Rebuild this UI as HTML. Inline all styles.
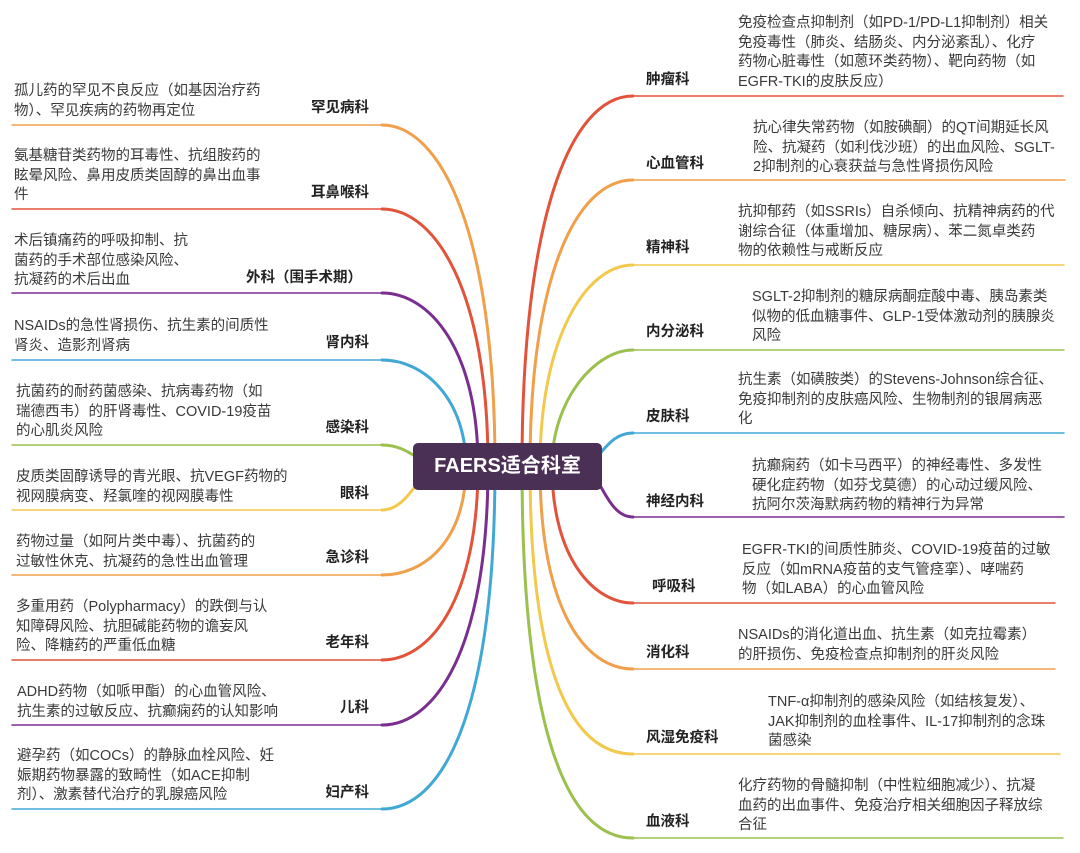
<!DOCTYPE html>
<html><head><meta charset="utf-8"><style>
html,body{margin:0;padding:0;background:#fff;}
body{width:1080px;height:853px;position:relative;overflow:hidden;font-family:"Liberation Sans","Noto Sans CJK SC",sans-serif;color:#333;}
.d{position:absolute;font-size:14.5px;line-height:19.5px;white-space:nowrap;color:#3a3a3a;}
.l{position:absolute;font-size:14.5px;font-weight:bold;white-space:nowrap;color:#222;line-height:20px;}
.r{text-align:right;}
svg{position:absolute;left:0;top:0;}
#c{position:absolute;left:413px;top:443px;width:189px;height:47px;background:#4b3056;border-radius:5px;color:#fff;font-size:20px;font-weight:bold;text-align:center;line-height:47px;}
</style></head><body>
<svg width="1080" height="853" fill="none" stroke-linecap="round">
<g stroke-width="3">
<path d="M495 466 C495 230,440 125,382 125" stroke="#f0a04b"/>
<path d="M488 466 C488 290,435 209,382 209" stroke="#e2533b"/>
<path d="M478 466 C478 350,430 293,382 293" stroke="#7a2e8f"/>
<path d="M466 466 C466 400,425 360,382 360" stroke="#41a8d5"/>
<path d="M440 466 C420 466,410 445,382 445" stroke="#9bc04e"/>
<path d="M440 466 C420 466,410 510,382 510" stroke="#f2c94c"/>
<path d="M466 466 C466 540,425 575,382 575" stroke="#f0a04b"/>
<path d="M478 466 C478 600,430 660,382 660" stroke="#e2533b"/>
<path d="M488 466 C488 650,435 725,382 725" stroke="#7a2e8f"/>
<path d="M495 466 C495 720,440 809,382 809" stroke="#41a8d5"/>
<path d="M522 466 C522 220,570 96,633 96" stroke="#e2533b"/>
<path d="M530 466 C530 280,575 180,633 180" stroke="#f0a04b"/>
<path d="M540 466 C540 340,585 265,633 265" stroke="#f2c94c"/>
<path d="M552 466 C552 400,595 350,633 350" stroke="#9bc04e"/>
<path d="M580 466 C600 466,605 433,633 433" stroke="#41a8d5"/>
<path d="M580 466 C600 466,605 517,633 517" stroke="#7a2e8f"/>
<path d="M552 466 C552 560,595 603,633 603" stroke="#e2533b"/>
<path d="M540 466 C540 610,585 669,633 669" stroke="#f0a04b"/>
<path d="M530 466 C530 680,575 754,633 754" stroke="#f2c94c"/>
<path d="M522 466 C522 740,570 838,633 838" stroke="#9bc04e"/>
</g>
<g stroke-width="1.5">
<path d="M12 125H382" stroke="#f0a04b"/>
<path d="M12 209H382" stroke="#e2533b"/>
<path d="M12 293H382" stroke="#7a2e8f"/>
<path d="M12 360H382" stroke="#41a8d5"/>
<path d="M12 445H382" stroke="#9bc04e"/>
<path d="M12 510H382" stroke="#f2c94c"/>
<path d="M12 575H382" stroke="#f0a04b"/>
<path d="M12 660H382" stroke="#e2533b"/>
<path d="M12 725H382" stroke="#7a2e8f"/>
<path d="M12 809H382" stroke="#41a8d5"/>
<path d="M633 96H1063" stroke="#e2533b"/>
<path d="M633 180H1065" stroke="#f0a04b"/>
<path d="M633 265H1064" stroke="#f2c94c"/>
<path d="M633 350H1064" stroke="#9bc04e"/>
<path d="M633 433H1064" stroke="#41a8d5"/>
<path d="M633 517H1064" stroke="#7a2e8f"/>
<path d="M633 603H1055" stroke="#e2533b"/>
<path d="M633 669H1055" stroke="#f0a04b"/>
<path d="M633 754H1060" stroke="#f2c94c"/>
<path d="M633 838H1063" stroke="#9bc04e"/>
</g>
</svg>
<div id="c">FAERS适合科室</div>

<div class="d" style="left:14px;top:82px">孤儿药的罕见不良反应（如基因治疗药<br>物）、罕见疾病的药物再定位</div>
<div class="l r" style="right:711px;top:98px">罕见病科</div>
<div class="d" style="left:14px;top:147px">氨基糖苷类药物的耳毒性、抗组胺药的<br>眩晕风险、鼻用皮质类固醇的鼻出血事<br>件</div>
<div class="l r" style="right:711px;top:183px">耳鼻喉科</div>
<div class="d" style="left:14px;top:232px">术后镇痛药的呼吸抑制、抗<br>菌药的手术部位感染风险、<br>抗凝药的术后出血</div>
<div class="l r" style="right:718px;top:268px">外科（围手术期）</div>
<div class="d" style="left:14px;top:317px">NSAIDs的急性肾损伤、抗生素的间质性<br>肾炎、造影剂肾病</div>
<div class="l r" style="right:711px;top:333px">肾内科</div>
<div class="d" style="left:16px;top:383px">抗菌药的耐药菌感染、抗病毒药物（如<br>瑞德西韦）的肝肾毒性、COVID-19疫苗<br>的心肌炎风险</div>
<div class="l r" style="right:711px;top:418px">感染科</div>
<div class="d" style="left:16px;top:468px">皮质类固醇诱导的青光眼、抗VEGF药物的<br>视网膜病变、羟氯喹的视网膜毒性</div>
<div class="l r" style="right:711px;top:484px">眼科</div>
<div class="d" style="left:16px;top:533px">药物过量（如阿片类中毒）、抗菌药的<br>过敏性休克、抗凝药的急性出血管理</div>
<div class="l r" style="right:711px;top:548px">急诊科</div>
<div class="d" style="left:16px;top:598px">多重用药（Polypharmacy）的跌倒与认<br>知障碍风险、抗胆碱能药物的谵妄风<br>险、降糖药的严重低血糖</div>
<div class="l r" style="right:711px;top:633px">老年科</div>
<div class="d" style="left:17px;top:683px">ADHD药物（如哌甲酯）的心血管风险、<br>抗生素的过敏反应、抗癫痫药的认知影响</div>
<div class="l r" style="right:711px;top:698px">儿科</div>
<div class="d" style="left:17px;top:747px">避孕药（如COCs）的静脉血栓风险、妊<br>娠期药物暴露的致畸性（如ACE抑制<br>剂）、激素替代治疗的乳腺癌风险</div>
<div class="l r" style="right:711px;top:783px">妇产科</div>

<div class="l" style="left:646px;top:70px">肿瘤科</div>
<div class="d" style="left:738px;top:14px">免疫检查点抑制剂（如PD-1/PD-L1抑制剂）相关<br>免疫毒性（肺炎、结肠炎、内分泌紊乱）、化疗<br>药物心脏毒性（如蒽环类药物）、靶向药物（如<br>EGFR-TKI的皮肤反应）</div>
<div class="l" style="left:646px;top:154px">心血管科</div>
<div class="d" style="left:753px;top:119px">抗心律失常药物（如胺碘酮）的QT间期延长风<br>险、抗凝药（如利伐沙班）的出血风险、SGLT-<br>2抑制剂的心衰获益与急性肾损伤风险</div>
<div class="l" style="left:646px;top:238px">精神科</div>
<div class="d" style="left:738px;top:203px">抗抑郁药（如SSRIs）自杀倾向、抗精神病药的代<br>谢综合征（体重增加、糖尿病）、苯二氮卓类药<br>物的依赖性与戒断反应</div>
<div class="l" style="left:646px;top:322px">内分泌科</div>
<div class="d" style="left:752px;top:288px">SGLT-2抑制剂的糖尿病酮症酸中毒、胰岛素类<br>似物的低血糖事件、GLP-1受体激动剂的胰腺炎<br>风险</div>
<div class="l" style="left:646px;top:407px">皮肤科</div>
<div class="d" style="left:738px;top:371px">抗生素（如磺胺类）的Stevens-Johnson综合征、<br>免疫抑制剂的皮肤癌风险、生物制剂的银屑病恶<br>化</div>
<div class="l" style="left:646px;top:492px">神经内科</div>
<div class="d" style="left:752px;top:457px">抗癫痫药（如卡马西平）的神经毒性、多发性<br>硬化症药物（如芬戈莫德）的心动过缓风险、<br>抗阿尔茨海默病药物的精神行为异常</div>
<div class="l" style="left:652px;top:577px">呼吸科</div>
<div class="d" style="left:742px;top:541px">EGFR-TKI的间质性肺炎、COVID-19疫苗的过敏<br>反应（如mRNA疫苗的支气管痉挛）、哮喘药<br>物（如LABA）的心血管风险</div>
<div class="l" style="left:646px;top:643px">消化科</div>
<div class="d" style="left:738px;top:626px">NSAIDs的消化道出血、抗生素（如克拉霉素）<br>的肝损伤、免疫检查点抑制剂的肝炎风险</div>
<div class="l" style="left:646px;top:728px">风湿免疫科</div>
<div class="d" style="left:768px;top:693px">TNF-α抑制剂的感染风险（如结核复发）、<br>JAK抑制剂的血栓事件、IL-17抑制剂的念珠<br>菌感染</div>
<div class="l" style="left:646px;top:812px">血液科</div>
<div class="d" style="left:738px;top:777px">化疗药物的骨髓抑制（中性粒细胞减少）、抗凝<br>血药的出血事件、免疫治疗相关细胞因子释放综<br>合征</div>
</body></html>
